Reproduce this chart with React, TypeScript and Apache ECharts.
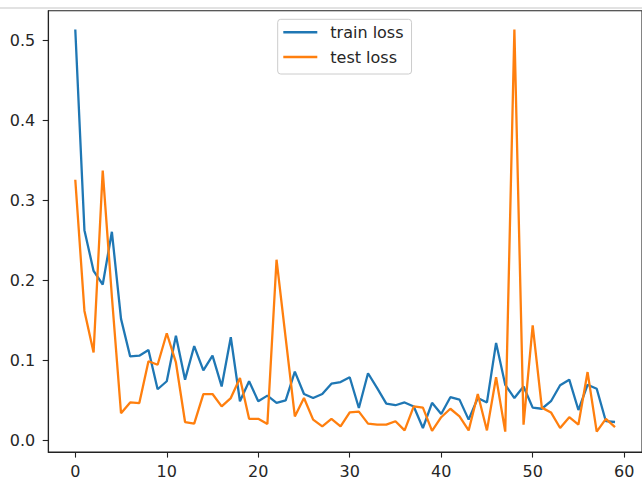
import React, { useEffect, useRef } from "react";
import * as echarts from "echarts";

const epochs: number[] = Array.from({ length: 60 }, (_, i) => i);
const trainLoss: number[] = [
  0.514, 0.263, 0.212, 0.195, 0.261, 0.152, 0.105, 0.106, 0.113, 0.064,
  0.074, 0.131, 0.076, 0.118, 0.0875, 0.106, 0.0675, 0.129, 0.049, 0.074,
  0.049, 0.056, 0.047, 0.05, 0.086, 0.058, 0.053, 0.058, 0.071, 0.073,
  0.079, 0.0405, 0.084, 0.0655, 0.046, 0.044, 0.0475, 0.0425, 0.0155, 0.047,
  0.033, 0.054, 0.051, 0.026, 0.053, 0.0475, 0.122, 0.0696, 0.053, 0.0675,
  0.041, 0.0396, 0.049, 0.069, 0.076, 0.038, 0.0696, 0.0646, 0.024, 0.023,
];
const testLoss: number[] = [
  0.326, 0.162, 0.11, 0.3375, 0.18, 0.034, 0.0475, 0.0467, 0.099, 0.0946,
  0.134, 0.0975, 0.023, 0.021, 0.058, 0.058, 0.0425, 0.053, 0.078, 0.027,
  0.027, 0.0205, 0.226, 0.128, 0.03, 0.053, 0.026, 0.0175, 0.027, 0.0175,
  0.035, 0.036, 0.021, 0.0197, 0.0197, 0.024, 0.0125, 0.0425, 0.041, 0.012,
  0.029, 0.0396, 0.03, 0.0125, 0.058, 0.0125, 0.079, 0.011, 0.514, 0.0197,
  0.144, 0.041, 0.035, 0.0155, 0.029, 0.0197, 0.0855, 0.011, 0.027, 0.0167,
];
const xTicks: number[] = [0, 10, 20, 30, 40, 50, 60];
const yTicks: number[] = [0, 0.1, 0.2, 0.3, 0.4, 0.5];
const seriesNames: string[] = ["train loss", "test loss"];

export default function App() {
  const ref = useRef<HTMLDivElement>(null);
  useEffect(() => {
    if (!ref.current) return;
    const chart = echarts.init(ref.current, null, { renderer: "svg" });
    const font = "DejaVu Sans";
    const textColor = "#262626";
    chart.setOption({
      animation: false,
      backgroundColor: "#ffffff",
      graphic: [
        {
          type: "rect",
          shape: { x: 0, y: 7, width: 642, height: 2 },
          style: { fill: "#e2e2e2" },
          silent: true,
        },
      ],
      grid: {
        left: 48.3,
        top: 10.7,
        right: -2.7,
        bottom: 26.7,
        show: true,
        borderColor: "#222",
        borderWidth: 1.1,
        backgroundColor: "#fff",
      },
      legend: {
        orient: "vertical",
        left: 277.7,
        top: 19.3,
        data: seriesNames,
        icon: "rect",
        itemWidth: 34,
        itemHeight: 2.4,
        itemGap: 6.7,
        padding: [4, 8, 8, 5.6],
        borderColor: "#cccccc",
        borderWidth: 1,
        borderRadius: 3,
        backgroundColor: "rgba(255,255,255,0.8)",
        textStyle: {
          fontFamily: font,
          fontSize: 16,
          lineHeight: 18,
          color: textColor,
          padding: [0, 0, 0, 8],
        },
      },
      xAxis: {
        type: "value",
        min: -2.95,
        max: 61.95,
        splitLine: { show: false },
        axisLine: { show: true, onZero: false, lineStyle: { color: "#222", width: 1.1 } },
        axisTick: {
          show: true,
          length: 5.6,
          lineStyle: { color: "#222", width: 1.1 },
          customValues: xTicks,
        },
        axisLabel: {
          fontFamily: font,
          fontSize: 16,
          color: textColor,
          margin: 11,
          customValues: xTicks,
          formatter: (v: number) => String(Math.round(v)),
        },
      },
      yAxis: {
        type: "value",
        min: -0.0145,
        max: 0.5375,
        splitLine: { show: false },
        axisLine: { show: true, onZero: false, lineStyle: { color: "#222", width: 1.1 } },
        axisTick: {
          show: true,
          length: 5.6,
          lineStyle: { color: "#222", width: 1.1 },
          customValues: yTicks,
        },
        axisLabel: {
          fontFamily: font,
          fontSize: 16,
          color: textColor,
          margin: 13,
          customValues: yTicks,
          formatter: (v: number) => v.toFixed(1),
        },
      },
      series: [
        {
          name: seriesNames[0],
          type: "line",
          data: epochs.map((e, i) => [e, trainLoss[i]]),
          showSymbol: false,
          symbol: "none",
          lineStyle: { color: "#1f77b4", width: 2.3 },
          itemStyle: { color: "#1f77b4" },
          z: 2,
        },
        {
          name: seriesNames[1],
          type: "line",
          data: epochs.map((e, i) => [e, testLoss[i]]),
          showSymbol: false,
          symbol: "none",
          lineStyle: { color: "#ff7f0e", width: 2.3 },
          itemStyle: { color: "#ff7f0e" },
          z: 3,
        },
      ],
    });
    return () => chart.dispose();
  }, []);
  return (
    <div
      ref={ref}
      style={{ position: "fixed", left: 0, top: 0, width: 642, height: 479, background: "#fff" }}
    />
  );
}
